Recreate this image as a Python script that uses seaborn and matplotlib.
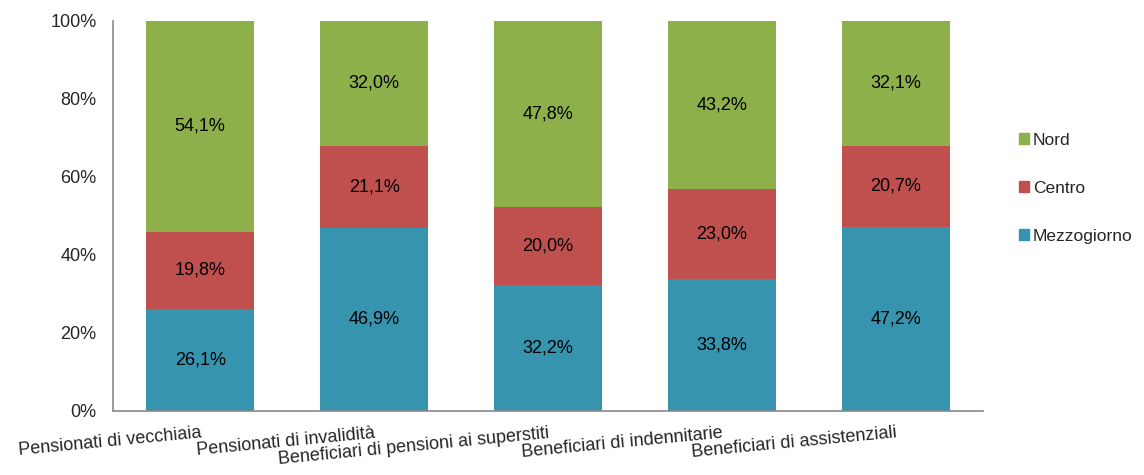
import numpy as np
import pandas as pd
import matplotlib
matplotlib.use('Agg')
import matplotlib.pyplot as plt
import seaborn as sns
from matplotlib.patches import Patch

# Data (percent shares)
categories = ['Pensionati di vecchiaia', 'Pensionati di invalidità',
              'Beneficiari di pensioni ai superstiti', 'Beneficiari di indennitarie',
              'Beneficiari di assistenziali']
mezzogiorno = [26.1, 46.9, 32.2, 33.8, 47.2]
centro = [19.8, 21.1, 20.0, 23.0, 20.7]
nord = [54.1, 32.0, 47.8, 43.2, 32.1]

colors = {'Nord': '#8EB04B', 'Centro': '#C0504D', 'Mezzogiorno': '#3794AE'}

sns.set_style('white')
plt.rcParams['font.family'] = ['Liberation Sans', 'DejaVu Sans']
fs = 13

df = pd.DataFrame({'cat': categories, 'Mezzogiorno': mezzogiorno,
                   'Centro': centro, 'Nord': nord})
df['top_centro'] = df['Mezzogiorno'] + df['Centro']
df['top_nord'] = df['top_centro'] + df['Nord']

fig = plt.figure(figsize=(11.44, 4.75), dpi=100)
ax = fig.add_axes([0.099, 0.135, 0.76, 0.821])

# stacked bars drawn as overlapping cumulative totals
for col, name in [('top_nord', 'Nord'), ('top_centro', 'Centro'), ('Mezzogiorno', 'Mezzogiorno')]:
    sns.barplot(data=df, x='cat', y=col, color=colors[name], width=0.62,
                saturation=1, linewidth=0, ax=ax)

# segment labels
for i in range(len(categories)):
    segs = [(0, mezzogiorno[i]), (mezzogiorno[i], centro[i]),
            (mezzogiorno[i] + centro[i], nord[i])]
    for base, val in segs:
        ax.text(i, base + val / 2, f'{val:.1f}%'.replace('.', ','),
                ha='center', va='center', fontsize=fs, color='black')

ax.set_xlim(-0.5, 4.5)
ax.set_ylim(0, 100)
ax.set_yticks(np.arange(0, 101, 20))
ax.set_yticklabels([f'{v}%' for v in range(0, 101, 20)], fontsize=fs)
ax.set_xlabel('')
ax.set_ylabel('')

# x ticks at category boundaries, labels at centres
ax.set_xticks(np.arange(-0.5, 5, 1), minor=True)
ax.tick_params(axis='x', which='minor', length=5, color='#888888', direction='out')
ax.tick_params(axis='x', which='major', length=0, pad=10)
ax.tick_params(axis='y', length=5, color='#888888', direction='out', pad=7)
ax.set_xticks(range(len(categories)))
ax.set_xticklabels(categories, rotation=5.5, ha='right', rotation_mode='anchor',
                   fontsize=fs)

sns.despine(ax=ax)
for side in ['left', 'bottom']:
    ax.spines[side].set_color('#888888')
    ax.spines[side].set_linewidth(1.2)

handles = [Patch(color=colors[k]) for k in ['Nord', 'Centro', 'Mezzogiorno']]
fig.legend(handles, ['Nord', 'Centro', 'Mezzogiorno'], loc='center left',
           bbox_to_anchor=(0.88, 0.604), frameon=False, fontsize=12.5,
           handlelength=0.6, handleheight=0.6, handletextpad=0.2,
           labelspacing=1.9, borderpad=0.2)

fig.savefig('out.png', dpi=100)
